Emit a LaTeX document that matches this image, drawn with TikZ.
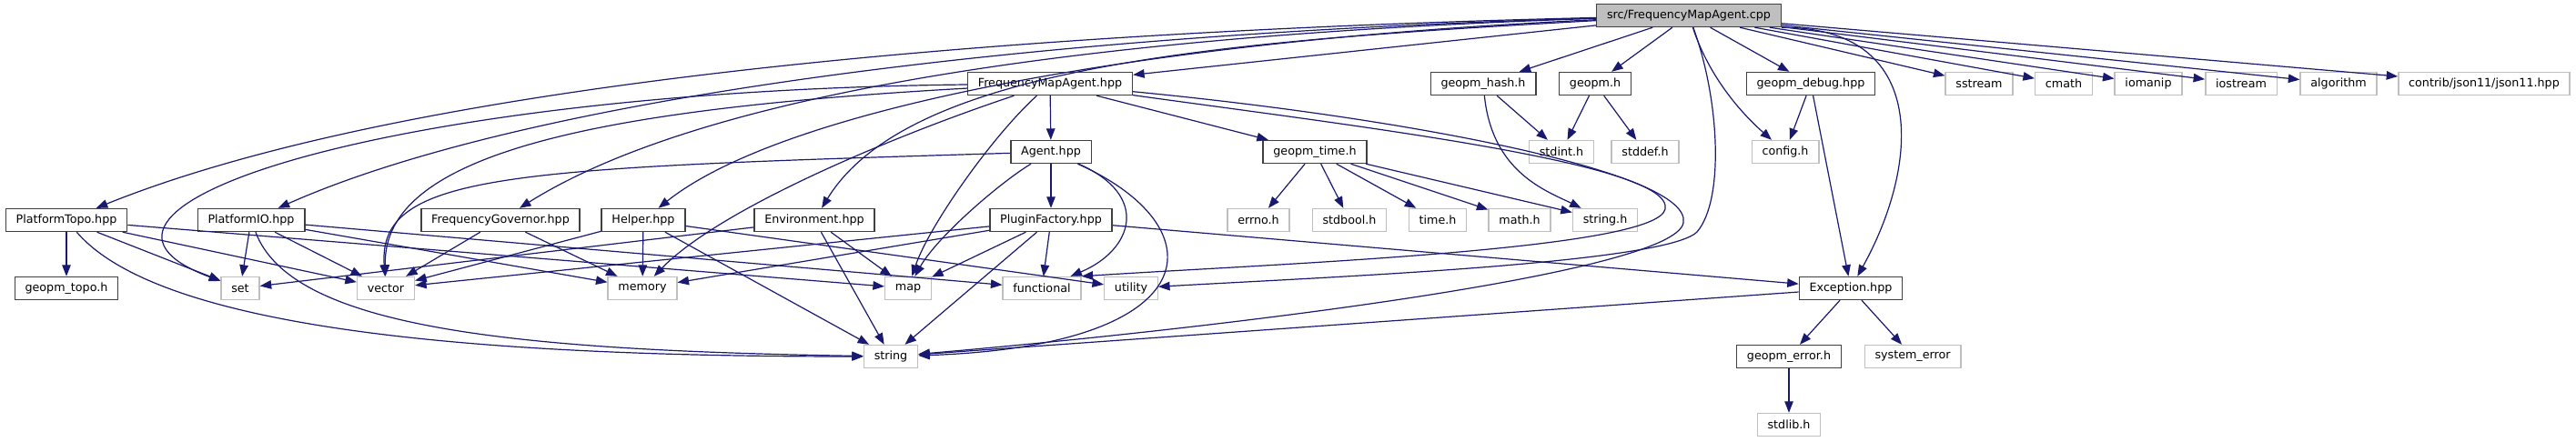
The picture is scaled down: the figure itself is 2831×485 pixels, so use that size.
\documentclass[tikz,border=0pt]{standalone}
\usepackage{fontspec}
\setmainfont{DejaVu Sans}
\usetikzlibrary{arrows.meta}

\definecolor{edgeblue}{RGB}{25,25,112}
\definecolor{boxgrey}{RGB}{191,191,191}
\definecolor{boxdark}{RGB}{64,64,64}

\tikzset{
  hdr/.style={draw=boxdark, line width=1.4pt, fill=white, inner xsep=11.3pt,
    inner ysep=0pt, minimum height=25pt, font=\fontsize{12.7pt}{15pt}\selectfont},
  sys/.style={hdr, draw=boxgrey},
  srcbox/.style={hdr, fill=boxgrey},
  inc/.style={draw=edgeblue, line width=1.2pt, -{Triangle[length=12.5pt,width=9.5pt]}},
}

\begin{document}
\begin{tikzpicture}[x=1pt, y=-1pt]
    % 画布 (像素坐标, y 向下)
    \fill[white] (0,0) rectangle (2831,485);
    \useasboundingbox (0,0) rectangle (2831,485);

    % 第 0 层
    \node[srcbox] (src) at (1856,17) {src/FrequencyMapAgent.cpp};

    % 第 1 层
    \node[hdr] (fmah)   at (1154,92) {FrequencyMapAgent.hpp};
    \node[hdr] (ghash)  at (1630,92) {geopm\_hash.h};
    \node[hdr] (gpm)    at (1753,92) {geopm.h};
    \node[hdr] (gdebug) at (1990,92) {geopm\_debug.hpp};
    \node[sys] (sstream)   at (2175,92) {sstream};
    \node[sys] (cmath)     at (2268,92) {cmath};
    \node[sys] (iomanip)   at (2361,92) {iomanip};
    \node[sys] (iostream)  at (2463,92) {iostream};
    \node[sys] (algorithm) at (2570,92) {algorithm};
    \node[sys] (json)      at (2730,92) {contrib/json11/json11.hpp};

    % 第 2 层
    \node[hdr] (agent)  at (1155,167) {Agent.hpp};
    \node[hdr] (gtime)  at (1445,167) {geopm\_time.h};
    \node[sys] (stdint) at (1716,167) {stdint.h};
    \node[sys] (stddef) at (1808,167) {stddef.h};
    \node[sys] (config) at (1962,167) {config.h};

    % 第 3 层
    \node[hdr] (ptopo)  at (73,242)   {PlatformTopo.hpp};
    \node[hdr] (pio)    at (276,242)  {PlatformIO.hpp};
    \node[hdr] (fgov)   at (550,242)  {FrequencyGovernor.hpp};
    \node[hdr] (helper) at (707,242)  {Helper.hpp};
    \node[hdr] (env)    at (895,242)  {Environment.hpp};
    \node[hdr] (pfac)   at (1155,242) {PluginFactory.hpp};
    \node[sys] (errno)   at (1383,242) {errno.h};
    \node[sys] (stdbool) at (1483,242) {stdbool.h};
    \node[sys] (timeh)   at (1580,242) {time.h};
    \node[sys] (mathh)   at (1670,242) {math.h};
    \node[sys] (stringh) at (1764,242) {string.h};

    % 第 4 层
    \node[hdr] (gtopo)  at (73,317)   {geopm\_topo.h};
    \node[sys] (set)    at (264,317)  {set};
    \node[sys] (vector) at (424,317)  {vector};
    \node[sys] (memory) at (706,317)  {memory};
    \node[sys] (map)    at (998,317)  {map};
    \node[sys] (func)   at (1145,317) {functional};
    \node[sys] (util)   at (1243,317) {utility};
    \node[hdr] (exc)    at (2034,317) {Exception.hpp};

    % 第 5, 6 层
    \node[sys] (string) at (979,392)  {string};
    \node[hdr] (gerr)   at (1966,392) {geopm\_error.h};
    \node[sys] (syserr) at (2102,392) {system\_error};
    \node[sys] (stdlib) at (1966,467) {stdlib.h};

    % src 的包含
    \draw[inc] (src) -- (fmah);
    \draw[inc] (src) -- (ghash);
    \draw[inc] (src) -- (gpm);
    \draw[inc] (src) -- (gdebug);
    \foreach \n in {sstream,cmath,iomanip,iostream,algorithm,json}
        \draw[inc] (src) -- (\n);
    \draw[inc] (src) .. controls (1880,90) and (1920,130) .. (config);
    \draw[inc] (src.south east) .. controls (2120,30) and (2110,180) .. (exc);
    \draw[inc] (src) .. controls (1890,110) and (1895,220) .. (1865,255)
        .. controls (1830,290) and (1450,305) .. (util);
    \draw[inc] (src) .. controls (1100,35) and (450,90) .. (ptopo);
    \draw[inc] (src) .. controls (1050,40) and (550,120) .. (pio);
    \draw[inc] (src) .. controls (1150,40) and (760,110) .. (fgov);
    \draw[inc] (src) .. controls (1250,45) and (860,120) .. (helper);
    \draw[inc] (src) .. controls (1350,45) and (1000,70) .. (env);

    % FrequencyMapAgent.hpp
    \draw[inc] (fmah) .. controls (420,100) and (30,230) .. (set);
    \draw[inc] (fmah) .. controls (650,120) and (420,170) .. (vector);
    \draw[inc] (fmah) .. controls (980,150) and (790,230) .. (memory);
    \draw[inc] (fmah) .. controls (1090,150) and (1020,250) .. (map);
    \draw[inc] (fmah) -- (agent);
    \draw[inc] (fmah) -- (gtime);
    \draw[inc] (fmah) .. controls (1500,140) and (1840,180) .. (1830,230)
        .. controls (1820,275) and (1400,290) .. (func.north east);
    \draw[inc] (fmah) .. controls (1550,130) and (1860,190) .. (1850,245)
        .. controls (1840,300) and (1350,360) .. (string);

    % Agent.hpp
    \draw[inc] (agent) .. controls (560,185) and (415,190) .. (vector);
    \draw[inc] (agent) .. controls (1100,200) and (1030,260) .. (map);
    \draw[inc] (agent) -- (pfac);
    \draw[inc] (agent) .. controls (1265,215) and (1245,275) .. (func);
    \draw[inc] (agent) .. controls (1340,250) and (1330,380) .. (string);

    % PluginFactory.hpp
    \foreach \n in {vector,memory,map,func,string,exc}
        \draw[inc] (pfac) -- (\n);

    % geopm_time.h, geopm_hash.h, geopm.h
    \foreach \n in {errno,stdbool,timeh,mathh,stringh}
        \draw[inc] (gtime) -- (\n);
    \draw[inc] (ghash) -- (stdint);
    \draw[inc] (ghash) .. controls (1640,190) and (1700,210) .. (stringh);
    \draw[inc] (gpm) -- (stdint);
    \draw[inc] (gpm) -- (stddef);

    % geopm_debug.hpp, Exception.hpp
    \draw[inc] (gdebug) -- (config);
    \draw[inc] (gdebug) -- (exc);
    \draw[inc] (exc) -- (gerr);
    \draw[inc] (exc) -- (syserr);
    \draw[inc] (exc) -- (string);
    \draw[inc] (gerr) -- (stdlib);

    % PlatformTopo.hpp, PlatformIO.hpp
    \foreach \n in {gtopo,set,vector,map}
        \draw[inc] (ptopo) -- (\n);
    \draw[inc] (ptopo) .. controls (170,355) and (480,392) .. (string);
    \foreach \n in {set,vector,memory,func}
        \draw[inc] (pio) -- (\n);
    \draw[inc] (pio) .. controls (320,360) and (560,385) .. (string);

    % FrequencyGovernor.hpp, Helper.hpp, Environment.hpp
    \draw[inc] (fgov) -- (vector);
    \draw[inc] (fgov) -- (memory);
    \foreach \n in {vector,memory,string,util}
        \draw[inc] (helper) -- (\n);
    \foreach \n in {set,map,string}
        \draw[inc] (env) -- (\n);
\end{tikzpicture}
\end{document}
